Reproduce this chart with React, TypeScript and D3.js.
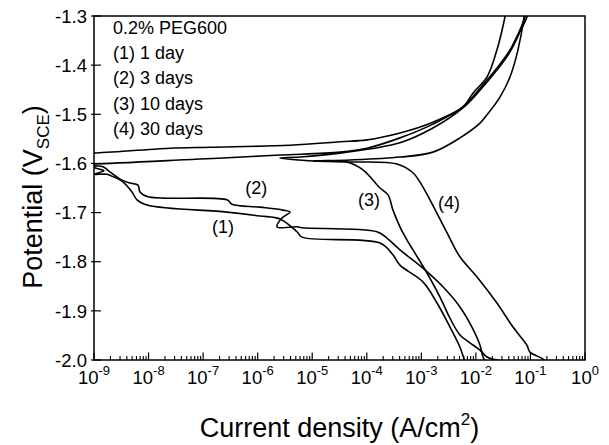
import React from "react";
import * as d3 from "d3";

// Curve (1) 1 day: cathodic branch from bottom -> Ecorr -> anodic branch
const c1Current = [6.3e-3, 5.1e-3, 3.35e-3, 1.94e-3, 1.07e-3, 4.06e-4, 3.02e-4, 1.75e-4, 6.49e-6, 5.26e-6, 2.56e-6, 1.1e-6, 2.74e-7, 9.77e-9, 6.14e-9, 4.97e-9, 3.26e-9, 2.14e-9, 1.73e-9, 1.0e-9, 1.52e-9, 1.04e-9, 5.5e-10, 5.5e-10, 1.0e-9, 2.47e-8, 1.34e-7, 3.91e-6, 3.23e-5, 1.01e-4, 4.06e-4, 1.63e-3, 5.79e-3, 8.83e-3, 1.6e-2, 2.43e-2, 3.41e-2, 3.72e-2];
const c1Potential = [-2.004, -1.974, -1.933, -1.884, -1.841, -1.807, -1.786, -1.762, -1.75, -1.739, -1.713, -1.707, -1.699, -1.685, -1.674, -1.658, -1.636, -1.626, -1.622, -1.622, -1.615, -1.609, -1.593, -1.579, -1.579, -1.569, -1.567, -1.563, -1.556, -1.552, -1.538, -1.516, -1.485, -1.457, -1.424, -1.369, -1.302, -1.278];

// Curve (2) 3 days
const c2Current = [1.47e-2, 1.35e-2, 1.19e-2, 8.47e-3, 5.1e-3, 2.49e-3, 1.07e-3, 4.06e-4, 2.34e-4, 1.54e-4, 6.49e-6, 5.26e-6, 2.26e-6, 2.79e-6, 3.91e-6, 2.91e-6, 1.1e-6, 3.38e-7, 2.74e-7, 9.77e-9, 6.97e-9, 6.4e-9, 4.57e-9, 3.26e-9, 1.96e-9, 1.46e-9, 1.04e-9, 5.5e-10, 5.5e-10, 1.0e-9, 8.77e-8, 2.31e-7, 2.56e-6, 3.23e-5, 1.01e-4, 4.06e-4, 1.63e-3, 5.79e-3, 1.19e-2, 2.43e-2, 4.22e-2, 6.43e-2, 7.94e-2, 8.63e-2];
const c2Potential = [-2.002, -1.994, -1.97, -1.933, -1.892, -1.851, -1.813, -1.776, -1.752, -1.739, -1.731, -1.729, -1.729, -1.711, -1.699, -1.695, -1.689, -1.683, -1.674, -1.668, -1.658, -1.644, -1.64, -1.634, -1.617, -1.607, -1.605, -1.603, -1.601, -1.601, -1.591, -1.589, -1.583, -1.577, -1.569, -1.548, -1.52, -1.485, -1.447, -1.406, -1.369, -1.328, -1.302, -1.278];

// Curve (3) 10 days
const c3Current = [3.0e-2, 1.6e-2, 1.19e-2, 7.78e-3, 5.1e-3, 3.35e-3, 2.2e-3, 1.27e-3, 7.03e-4, 5.47e-4, 4.06e-4, 3.02e-4, 2.45e-4, 1.75e-4, 8.51e-5, 4.34e-5, 1.03e-5, 2.56e-6, 5.97e-6, 3.23e-5, 4.06e-4, 1.63e-3, 5.79e-3, 1.19e-2, 2.43e-2, 4.22e-2, 6.71e-2, 8.63e-2, 9.4e-2];
const c3Potential = [-2.002, -1.994, -1.98, -1.965, -1.949, -1.915, -1.872, -1.823, -1.776, -1.756, -1.729, -1.695, -1.664, -1.65, -1.613, -1.597, -1.595, -1.589, -1.587, -1.579, -1.558, -1.528, -1.487, -1.451, -1.41, -1.373, -1.328, -1.302, -1.278];

// Curve (4) 30 days
const c4Current = [1.85e-1, 1.7e-1, 9.8e-2, 8.63e-2, 4.79e-2, 2.43e-2, 1.05e-2, 5.1e-3, 2.95e-3, 1.44e-3, 9.44e-4, 7.03e-4, 3.58e-4, 4.34e-5, 1.03e-5, 4.92e-5, 4.06e-4, 1.63e-3, 5.1e-3, 1.19e-2, 1.6e-2, 2.76e-2, 4.22e-2, 5.91e-2, 7.61e-2, 7.94e-2];
const c4Potential = [-2.004, -1.998, -1.984, -1.97, -1.933, -1.884, -1.831, -1.79, -1.741, -1.674, -1.638, -1.619, -1.601, -1.597, -1.595, -1.593, -1.587, -1.577, -1.548, -1.518, -1.501, -1.465, -1.424, -1.369, -1.302, -1.278];

const curveNames = ["(1)", "(2)", "(3)", "(4)"];
const labelCurrent = [1.46e-7, 5.9e-7, 6.9e-5, 2.02e-3];
const labelPotential = [-1.742, -1.662, -1.687, -1.693];

const legendLines = ["0.2% PEG600", "(1) 1 day", "(2) 3 days", "(3) 10 days", "(4) 30 days"];

const xTickExponents = [-9, -8, -7, -6, -5, -4, -3, -2, -1, 0];
const yTicks = [-1.3, -1.4, -1.5, -1.6, -1.7, -1.8, -1.9, -2.0];

const W = 609;
const H = 445;
const L = 94;
const T = 16;
const R = 585;
const B = 360;
const FONT = "'Liberation Sans', Arial, Helvetica, sans-serif";

export default function App() {
  const x = d3.scaleLog().domain([1e-9, 1]).range([L, R]);
  const y = d3.scaleLinear().domain([-1.3, -2.0]).range([T, B]);

  const line = d3
    .line<[number, number]>()
    .x((d) => x(d[0]))
    .y((d) => y(d[1]))
    .curve(d3.curveCatmullRom.alpha(0.5));

  const series = [
    d3.zip(c1Current, c1Potential) as [number, number][],
    d3.zip(c2Current, c2Potential) as [number, number][],
    d3.zip(c3Current, c3Potential) as [number, number][],
    d3.zip(c4Current, c4Potential) as [number, number][],
  ];

  const minorTicks: number[] = [];
  for (let e = -9; e < 0; e++) {
    for (let m = 2; m <= 9; m++) minorTicks.push(m * Math.pow(10, e));
  }

  return (
    <svg
      width={W}
      height={H}
      style={{ position: "absolute", left: 0, top: 0, background: "#fff" }}
      fontFamily={FONT}
    >
      <defs>
        <clipPath id="plotClip">
          <rect x={L} y={T} width={R - L} height={B - T} />
        </clipPath>
      </defs>
      <rect x={0} y={0} width={W} height={H} fill="#fff" />

      <g clipPath="url(#plotClip)">
        {series.map((s, i) => (
          <path key={i} d={line(s) || ""} fill="none" stroke="#000" strokeWidth={1.6} strokeLinejoin="round" />
        ))}
      </g>

      {/* frame */}
      <rect x={L} y={T} width={R - L} height={B - T} fill="none" stroke="#000" strokeWidth={1.5} />

      {/* y ticks */}
      {yTicks.map((t) => (
        <g key={t}>
          <line x1={L - 3} x2={L + 7} y1={y(t)} y2={y(t)} stroke="#000" strokeWidth={1.2} />
          <text x={L - 7} y={y(t)} dy="0.36em" textAnchor="end" fontSize={18.5}>
            {t.toFixed(1)}
          </text>
        </g>
      ))}

      {/* x ticks */}
      {minorTicks.map((t, i) => (
        <line key={"m" + i} x1={x(t)} x2={x(t)} y1={B} y2={B - 4} stroke="#000" strokeWidth={1.1} />
      ))}
      {xTickExponents.map((e) => (
        <g key={e}>
          <line x1={x(Math.pow(10, e))} x2={x(Math.pow(10, e))} y1={B} y2={B - 7.5} stroke="#000" strokeWidth={1.2} />
          <text x={x(Math.pow(10, e))} y={384} textAnchor="middle" fontSize={18.5}>
            10
            <tspan dy={-9} fontSize={13}>
              {String(e)}
            </tspan>
          </text>
        </g>
      ))}

      {/* legend */}
      {legendLines.map((s, i) => (
        <text key={s} x={113} y={34 + i * 25.2} fontSize={18}>
          {s}
        </text>
      ))}

      {/* curve labels */}
      {curveNames.map((n, i) => (
        <text key={n} x={x(labelCurrent[i])} y={y(labelPotential[i])} fontSize={18}>
          {n}
        </text>
      ))}

      {/* axis titles */}
      <text x={(L + R) / 2} y={437} textAnchor="middle" fontSize={27}>
        Current density (A/cm
        <tspan dy={-12} fontSize={17}>
          2
        </tspan>
        <tspan dy={12}>)</tspan>
      </text>
      <text transform={`translate(42,197) rotate(-90)`} textAnchor="middle" fontSize={27}>
        Potential (V
        <tspan dy={7} fontSize={17}>
          SCE
        </tspan>
        <tspan dy={-7}>)</tspan>
      </text>
    </svg>
  );
}
